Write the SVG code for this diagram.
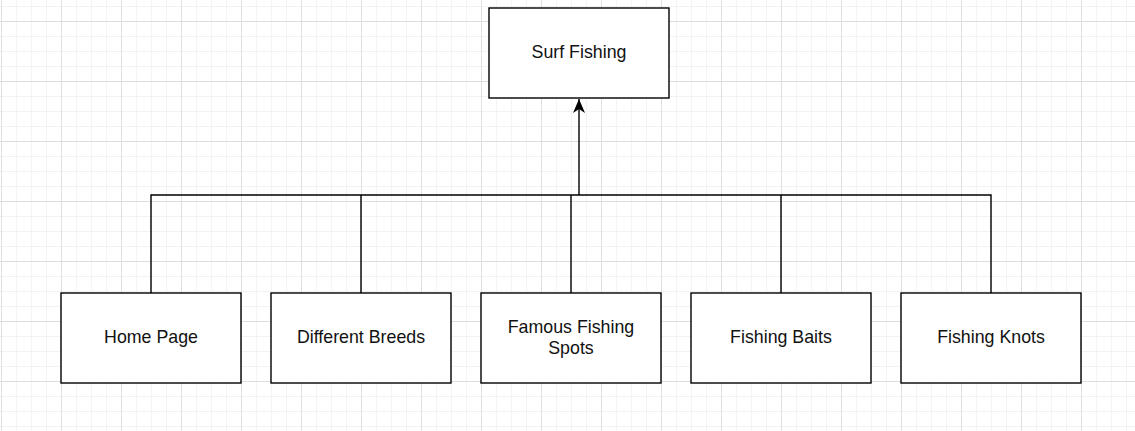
<svg xmlns="http://www.w3.org/2000/svg" width="1135" height="431" viewBox="0 0 1135 431">
<defs>
<pattern id="minor" x="1" y="6" width="15" height="15" patternUnits="userSpaceOnUse">
<path d="M0 0H15M0 0V15" fill="none" stroke="#eeeeee" stroke-width="1.3"/>
</pattern>
<pattern id="major" x="1" y="21" width="60" height="60" patternUnits="userSpaceOnUse">
<path d="M0 0H60M0 0V60" fill="none" stroke="#d6d6d6" stroke-width="1.3"/>
</pattern>
<marker id="arrow" viewBox="0 0 14 12" refX="14" refY="6" markerWidth="14" markerHeight="12" markerUnits="userSpaceOnUse" orient="auto">
<path d="M0 0L14 6L0 12L4 6Z" fill="#000"/>
</marker>
</defs>
<style>
.box{fill:#fff;stroke:#000;stroke-width:1.4}
.lbl{font-family:"Liberation Sans",Arial,sans-serif;font-size:17.8px;fill:#111;text-anchor:middle}
.con{fill:none;stroke:#000;stroke-width:1.4}
</style>
<rect width="1135" height="431" fill="#fff"/>
<rect width="1135" height="431" fill="url(#minor)"/>
<rect width="1135" height="431" fill="url(#major)"/>
<g id="connectors">
<path class="con" d="M151 293V195H991V293M361 195V293M571 195V293M781 195V293"/>
<path class="con" d="M579 195V99" marker-end="url(#arrow)"/>
</g>
<g id="surf-fishing">
<rect class="box" x="489" y="8" width="180" height="90"/>
<text class="lbl" x="579" y="58">Surf Fishing</text>
</g>
<g id="home-page">
<rect class="box" x="61" y="293" width="180" height="90"/>
<text class="lbl" x="151" y="343">Home Page</text>
</g>
<g id="different-breeds">
<rect class="box" x="271" y="293" width="180" height="90"/>
<text class="lbl" x="361" y="343">Different Breeds</text>
</g>
<g id="famous-fishing-spots">
<rect class="box" x="481" y="293" width="180" height="90"/>
<text class="lbl" x="571" y="333">Famous Fishing</text>
<text class="lbl" x="571" y="354">Spots</text>
</g>
<g id="fishing-baits">
<rect class="box" x="691" y="293" width="180" height="90"/>
<text class="lbl" x="781" y="343">Fishing Baits</text>
</g>
<g id="fishing-knots">
<rect class="box" x="901" y="293" width="180" height="90"/>
<text class="lbl" x="991" y="343">Fishing Knots</text>
</g>
</svg>
